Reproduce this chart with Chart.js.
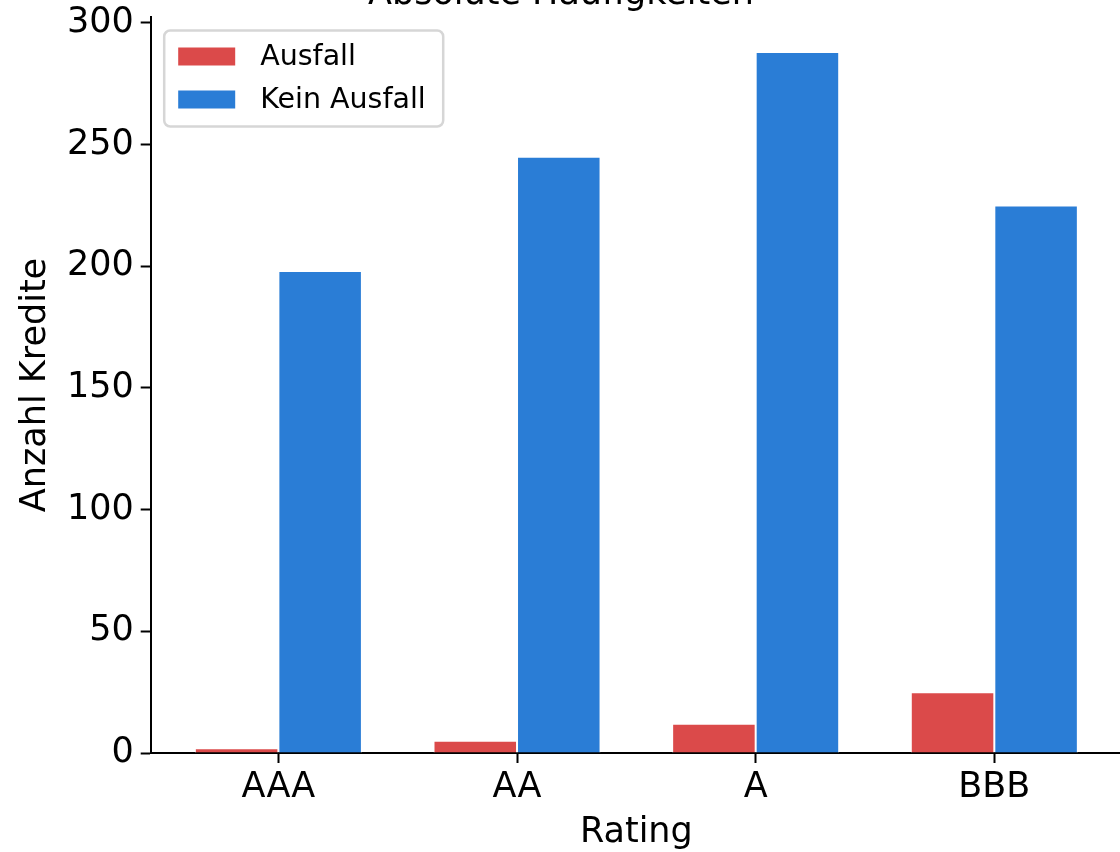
<!DOCTYPE html>
<html>
<head>
<meta charset="utf-8">
<script src="https://cdn.jsdelivr.net/npm/chart.js@4.4.0/dist/chart.umd.min.js"></script>
<style>
  html, body { margin: 0; padding: 0; background: #fff; overflow: hidden; }
  #wrap { position: relative; width: 1120px; height: 852px; overflow: hidden; }
  #ratingChart { position: absolute; left: 0; top: -60px; }
</style>
</head>
<body>
<div id="wrap"><canvas id="ratingChart" width="1140" height="912"></canvas></div>
<script>
// Ratingklassen und absolute Anzahl Kredite
var ratings = ["AAA", "AA", "A", "BBB"];
var ausfall = [2, 5, 12, 25];
var keinAusfall = [198, 245, 288, 225];
var yTicks = [0, 50, 100, 150, 200, 250, 300];

var redColor = "#DB4A4A",
    blueColor = "#2A7DD6";

Chart.defaults.font.family = "'DejaVu Sans', sans-serif";
Chart.defaults.color = "#000";

function toPoints(values){
    var pts = [];
    for(var i = 0; i < values.length; i++){
        pts.push({x: i, y: values[i]});
    }
    return pts;
}

// legend box drawn inside the plot, top left like matplotlib
var legendBox = {
    id: "legendBox",
    afterDraw: function(chart){
        var ctx = chart.ctx,
            area = chart.chartArea,
            x = area.left + 13.5,
            y = area.top + 13.5,
            w = 279,
            h = 96;
        ctx.save();
        ctx.beginPath();
        ctx.roundRect(x, y, w, h, 6);
        ctx.fillStyle = "rgba(255,255,255,0.8)";
        ctx.fill();
        ctx.lineWidth = 2.5;
        ctx.strokeStyle = "#d6d6d6";
        ctx.stroke();
        ctx.font = "28.5px 'DejaVu Sans'";
        ctx.textBaseline = "middle";
        ctx.textAlign = "left";
        chart.data.datasets.forEach(function(ds, i){
            var cy = y + 26 + i * 43;
            ctx.fillStyle = ds.backgroundColor;
            ctx.fillRect(x + 14, cy - 9, 57, 18);
            ctx.fillStyle = "#000";
            ctx.fillText(ds.label, x + 96, cy + 1);
        });
        ctx.restore();
    }
};

var ctx = document.getElementById("ratingChart").getContext("2d");
var ratingChart = new Chart(ctx, {
    type: "bar",
    data: {
        datasets: [
            {
                label: "Ausfall",
                data: toPoints(ausfall),
                backgroundColor: redColor,
                borderColor: "#fff",
                borderWidth: 1,
                barPercentage: 1.0,
                categoryPercentage: 0.7
            },
            {
                label: "Kein Ausfall",
                data: toPoints(keinAusfall),
                backgroundColor: blueColor,
                borderColor: "#fff",
                borderWidth: 1,
                barPercentage: 1.0,
                categoryPercentage: 0.7
            }
        ]
    },
    options: {
        responsive: false,
        animation: false,
        devicePixelRatio: 1,
        layout: { padding: { left: 0, right: 18, top: 0, bottom: 0 } },
        plugins: {
            legend: { display: false },
            tooltip: { enabled: false },
            title: {
                display: true,
                text: "Absolute Häufigkeiten",
                font: { size: 35, weight: "normal" },
                color: "#000",
                padding: { top: 34, bottom: 1 }
            }
        },
        scales: {
            x: {
                type: "linear",
                min: -0.535,
                max: 3.535,
                offset: false,
                grid: { offset: false, drawOnChartArea: false, drawTicks: true, tickLength: 10, tickWidth: 2, tickColor: "#000" },
                border: { display: true, color: "#000", width: 2 },
                ticks: {
                    stepSize: 1,
                    includeBounds: false,
                    autoSkip: false,
                    maxRotation: 0,
                    padding: 4,
                    font: { size: 35 },
                    color: "#000",
                    callback: function(value){
                        return ratings[value] !== undefined ? ratings[value] : "";
                    }
                },
                title: {
                    display: true,
                    text: "Rating",
                    font: { size: 35, lineHeight: 1.1 },
                    color: "#000",
                    padding: { top: 0, bottom: 0 }
                },
                afterFit: function(scale){ scale.height = 99; }
            },
            y: {
                min: 0,
                max: 302.4,
                grid: { drawOnChartArea: false, drawTicks: true, tickLength: 10, tickWidth: 2, tickColor: "#000" },
                border: { display: true, color: "#000", width: 2 },
                afterBuildTicks: function(scale){
                    scale.ticks = yTicks.map(function(v){ return {value: v}; });
                },
                ticks: {
                    padding: 7,
                    font: { size: 35 },
                    color: "#000"
                },
                title: {
                    display: true,
                    text: "Anzahl Kredite",
                    font: { size: 35 },
                    color: "#000",
                    padding: { top: 15, bottom: 0 }
                },
                afterFit: function(scale){ scale.width = 150.7; }
            }
        }
    },
    plugins: [legendBox]
});
</script>
</body>
</html>
